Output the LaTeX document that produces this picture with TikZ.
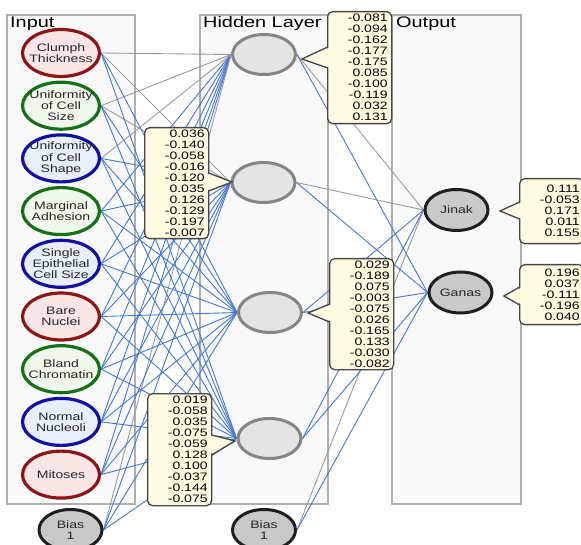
\documentclass[tikz,border=0pt]{standalone}
\usepackage{fontspec}
\setmainfont[FakeStretch=1.3]{Liberation Sans}
\usetikzlibrary{shapes.geometric,backgrounds}
\definecolor{redline}{RGB}{140,22,22}
\definecolor{redfill}{RGB}{248,230,230}
\definecolor{greenline}{RGB}{22,112,22}
\definecolor{greenfill}{RGB}{240,247,236}
\definecolor{blueline}{RGB}{18,18,160}
\definecolor{bluefill}{RGB}{232,238,250}
\definecolor{edgeblue}{RGB}{70,120,210}
\definecolor{edgegray}{RGB}{155,155,155}
\definecolor{boxfill}{RGB}{255,250,226}
\definecolor{boxline}{RGB}{70,70,70}
\definecolor{panelfill}{RGB}{249,249,249}
\definecolor{panelline}{RGB}{175,175,175}
\begin{document}
\begin{tikzpicture}[x=1pt, y=-1pt,
  panel/.style={draw=panelline, fill=panelfill, line width=1.2pt},
  title/.style={anchor=base west, inner sep=0, font=\fontsize{15.3}{17}\selectfont},
  lab/.style={align=center, inner sep=0, text=black!85, font=\fontsize{10.8}{11.2}\selectfont},
  inp/.style={ellipse, draw=#1line, fill=#1fill, line width=3.2pt,
    minimum width=77pt, minimum height=47pt, inner sep=0},
  hid/.style={ellipse, draw=black!48, fill=black!10.5, line width=3pt,
    minimum width=63pt, minimum height=40pt, inner sep=0},
  outnode/.style={ellipse, draw=black!88, fill=black!21, line width=3pt, lab,
    minimum width=63pt, minimum height=41pt},
  be/.style={draw=edgeblue, line width=0.9pt},
  ge/.style={draw=edgegray, line width=0.9pt},
  wbox/.style={draw=boxline, fill=boxfill, rounded corners=5pt, line width=1.3pt,
    anchor=north west, text width=56pt, inner xsep=4pt, inner ysep=0pt,
    align=right, font=\fontsize{10.8}{11}\selectfont}]
  \useasboundingbox (0,0) rectangle (581,545);
  % inputs
  \foreach \col/\txt [count=\k] in {red/Clumph\\Thickness, green/Uniformity\\of Cell\\Size,
      blue/Uniformity\\of Cell\\Shape, green/Marginal\\Adhesion, blue/Single\\Epithelial\\Cell Size,
      red/Bare\\Nuclei, green/Bland\\Chromatin, blue/Normal\\Nucleoli, red/Mitoses}
    \node[inp=\col, label={[lab]center:\txt}] (i\k) at (61,{53+52.7*(\k-1)}) {};
  \node[outnode] (ib) at (70.5,530) {Bias\\1};
  % hidden layer
  \node[hid] (h1) at (264,54.5) {};
  \node[hid] (h2) at (263.5,182.5) {};
  \node[hid] (h3) at (270,312.5) {};
  \node[hid] (h4) at (269.5,438.5) {};
  \node[outnode] (hb) at (264,530) {Bias\\1};
  % outputs
  \node[outnode] (o1) at (456.5,210) {Jinak};
  \node[outnode] (o2) at (460.5,292.5) {Ganas};
  \node[title] (tin) at (10,27.2) {Input};
  \node[title] (thid) at (203,27.2) {Hidden Layer};
  \node[title] (tout) at (396,27.2) {Output};
  \begin{scope}[on background layer]
    \path[panel] (7,15) rectangle (135,504);
    \path[panel] (200,15) rectangle (328,504);
    \path[panel] (392,15) rectangle (521,504);
    \foreach \i in {4,...,9} \draw[be] (i\i.east) -- (h1.west);
    \foreach \i in {1,2,3,b} \draw[ge] (i\i.east) -- (h1.west);
    \foreach \i in {3,4,5,6,7,8,9,b} \draw[be] (i\i.east) -- (h2.west);
    \foreach \i in {1,2} \draw[ge] (i\i.east) -- (h2.west);
    \foreach \j in {3,4} \foreach \i in {1,2,3,4,5,6,7,8,9,b} \draw[be] (i\i.east) -- (h\j.west);
    \foreach \h in {1,2,b} \draw[ge] (h\h.east) -- (o1.west);
    \foreach \h in {3,4} \draw[be] (h\h.east) -- (o1.west);
    \foreach \h in {1,2,3,4,b} \draw[be] (h\h.east) -- (o2.west);
  \end{scope}
  % weights
  \node[wbox, minimum height=112pt] (w1) at (327,11)
    {-0.081\\-0.094\\-0.162\\-0.177\\-0.175\\0.085\\-0.100\\-0.119\\0.032\\0.131};
  \node[wbox, minimum height=111pt] (w2) at (144,127)
    {0.036\\-0.140\\-0.058\\-0.016\\-0.120\\0.035\\0.126\\-0.129\\-0.197\\-0.007};
  \node[wbox, minimum height=111pt] (w3) at (329,258)
    {0.029\\-0.189\\0.075\\-0.003\\-0.075\\0.026\\-0.165\\0.133\\-0.030\\-0.082};
  \node[wbox, minimum height=112pt] (w4) at (147,393)
    {0.019\\-0.058\\0.035\\-0.075\\-0.059\\0.128\\0.100\\-0.037\\-0.144\\-0.075};
  \node[wbox, minimum height=65pt] (w5) at (519,178)
    {0.111\\-0.053\\0.171\\0.011\\0.155};
  \node[wbox, minimum height=60pt] (w6) at (519,264)
    {0.196\\0.037\\-0.111\\-0.196\\0.040};
  \foreach \e/\i/\p/\q/\tx/\ty in {327.6/331/47/68/302/59, 208.7/205/173/191/232/182,
      329.6/333/304/322/308/313, 211.7/208/435/455/235/441,
      519.6/523/202/219/500/211, 519.6/523/287/305/504/296} {
    \fill[boxfill] (\i,\p) -- (\tx,\ty) -- (\i,\q) -- cycle;
    \draw[boxline, line width=1.3pt] (\e,\p) -- (\tx,\ty) -- (\e,\q);
  }
\end{tikzpicture}
\end{document}
